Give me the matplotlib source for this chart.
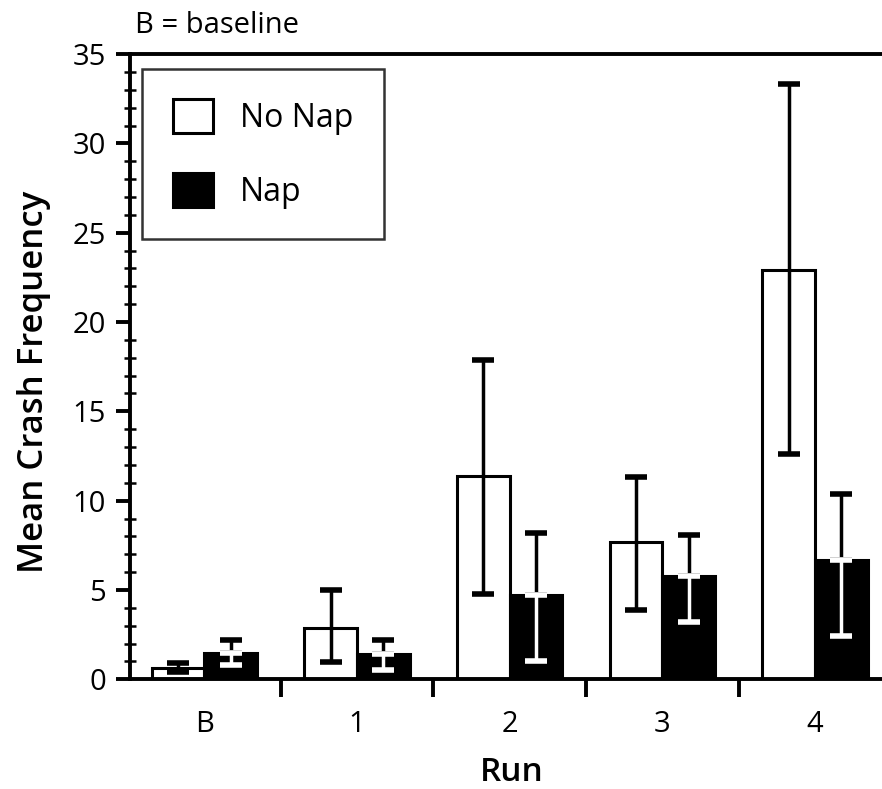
import matplotlib.pyplot as plt
import numpy as np

plt.rcParams['font.family'] = ['Open Sans', 'DejaVu Sans']

# 데이터
runs = ['B', '1', '2', '3', '4']
no_nap = [0.65, 2.9, 11.4, 7.7, 22.9]
no_nap_lo = [0.4, 0.95, 4.8, 3.9, 12.6]
no_nap_hi = [0.9, 5.0, 17.9, 11.3, 33.3]
nap = [1.5, 1.4, 4.7, 5.8, 6.7]
nap_lo = [0.8, 0.5, 1.05, 3.2, 2.45]
nap_hi = [2.2, 2.2, 8.2, 8.1, 10.4]

x = np.arange(len(runs))
w = 0.345

fig = plt.figure(figsize=(8.82, 7.89), dpi=100)
ax = fig.add_axes([0.147, 0.139, 0.853, 0.7925])

ax.bar(x - w / 2, no_nap, w, color='white', edgecolor='black', linewidth=2.2, label='No Nap', zorder=2)
ax.bar(x + w / 2, nap, w, color='black', edgecolor='black', linewidth=2.2, label='Nap', zorder=2)

# 오차 막대: No Nap 은 검정
nn = np.array(no_nap)
ax.errorbar(x - w / 2, nn, yerr=[nn - np.array(no_nap_lo), np.array(no_nap_hi) - nn],
            fmt='none', ecolor='black', elinewidth=2.5, capsize=8, capthick=4, zorder=3)

# Nap: 막대 위쪽은 검정, 막대 안쪽은 흰색
nv = np.array(nap)
ax.errorbar(x + w / 2, nv, yerr=[np.zeros_like(nv), np.array(nap_hi) - nv],
            fmt='none', ecolor='black', elinewidth=2.5, capsize=8, capthick=4, zorder=3)
ax.errorbar(x + w / 2, nv, yerr=[nv - np.array(nap_lo), np.zeros_like(nv)],
            fmt='none', ecolor='white', elinewidth=2.5, capsize=8, capthick=4, zorder=3)

ax.set_xlim(-0.49, 4.44)
ax.set_ylim(0, 35)

ax.set_xticks(x[:-1] + 0.5)
ax.set_xticklabels([])
ax.set_xticks(x, minor=True)
ax.set_xticklabels(runs, minor=True, fontsize=21)
ax.tick_params(axis='x', which='major', direction='out', length=13, width=2.8)
ax.tick_params(axis='x', which='minor', length=0, pad=22)

ax.set_yticks(np.arange(0, 36, 5))
ax.set_yticks(np.arange(0, 36, 1), minor=True)
ax.tick_params(axis='y', which='major', direction='out', length=10, width=2.8, labelsize=21, pad=7)
ax.tick_params(axis='y', which='minor', direction='inout', length=8, width=1.8)

for s in ['left', 'bottom', 'top']:
    ax.spines[s].set_linewidth(2.8)
ax.spines['right'].set_visible(False)

ax.set_ylabel('Mean Crash Frequency', fontsize=25, fontweight='semibold')
ax.yaxis.set_label_coords(-0.105, 0.475)
ax.set_xlabel('Run', fontsize=24, fontweight='semibold')
ax.xaxis.set_label_coords(0.508, -0.122)

fig.text(0.153, 0.958, 'B = baseline', fontsize=21, ha='left', va='baseline')

leg = ax.legend(loc='upper left', bbox_to_anchor=(0.017, 0.976), fontsize=23, frameon=True,
                fancybox=False, handlelength=1.25, handleheight=1.25, borderpad=0.95,
                labelspacing=1.2, handletextpad=0.85, borderaxespad=0)
leg.get_frame().set_edgecolor('black')
leg.get_frame().set_linewidth(1.8)

plt.savefig('out.png', dpi=100)
